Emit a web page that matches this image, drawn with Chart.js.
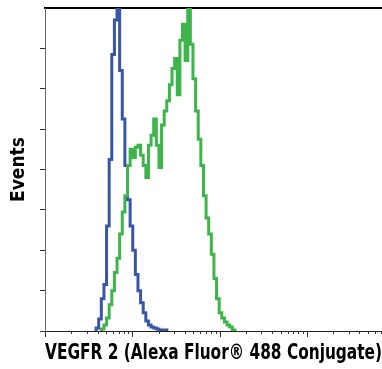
<!DOCTYPE html>
<html>
<head>
<meta charset="utf-8">
<script src="https://cdn.jsdelivr.net/npm/chart.js@4.4.1/dist/chart.umd.min.js"></script>
<style>
  html, body { margin: 0; padding: 0; background: #fff; }
  #wrap { width: 382px; height: 369px; }
</style>
</head>
<body>
<div id="wrap"><canvas id="histo" width="382" height="369"></canvas></div>
<script>
// fluorescence channel (bin centres, log spaced)
const binValues = [3.715, 3.981, 4.266, 4.571, 4.898, 5.248, 5.623, 6.026, 6.457, 6.918,
  7.413, 7.943, 8.511, 9.120, 9.772, 10.47, 11.22, 12.02, 12.88, 13.80,
  14.79, 15.85, 16.98, 18.20, 19.50, 20.89, 22.39, 23.99, 25.70, 27.54,
  29.51, 31.62, 33.88, 36.31, 38.90, 41.69, 44.67, 47.86, 51.29, 54.95,
  58.88, 63.10, 67.61, 72.44, 77.62, 83.18, 89.13, 95.50, 102.3, 109.6,
  117.5, 125.9, 134.9, 144.5, 154.9, 166.0, 177.8, 190.5];

// blue : control
const isotypeCounts = [0, 1.5, 6, 16, 23, 52, 85, 137, 154, 174,
  129, 105, 82, 65, 52, 40, 28, 20, 14, 9,
  5, 3, 2, 1.5, 1, 0.5, 0.5, 0.5, 0, 0,
  0, 0, 0, 0, 0, 0, 0, 0, 0, 0,
  0, 0, 0, 0, 0, 0, 0, 0, 0, 0,
  0, 0, 0, 0, 0, 0, 0, 0];

// green : VEGFR 2 Alexa Fluor 488
const vegfrCounts = [0, 0, 0, 1, 3, 6.4, 13, 20, 29, 36,
  48, 59, 67, 82, 90, 86, 91, 92, 87, 82,
  76, 92, 97, 105, 92, 81, 102, 109, 114, 122,
  130, 135, 117, 144, 152, 134, 170, 142, 125, 109,
  95, 82, 67, 56, 48, 38, 26, 16, 9, 6.4,
  4.5, 3, 2, 0.5, 0, 0, 0, 0];

const xTickValues = [1, 2, 3, 4, 5, 6, 7, 8, 9,
  10, 20, 30, 40, 50, 60, 70, 80, 90,
  100, 200, 300, 400, 500, 600, 700, 800, 900,
  1000, 2000, 3000, 4000, 5000, 6000, 7000];

const xMin = 1;
const xMax = 7244;
const yMax = 160;
const yStep = 20;

const titleFont = "'Liberation Sans Narrow', 'DejaVu Sans Condensed', 'Roboto Condensed', sans-serif";

// garde un seul zéro de chaque côté de la courbe
function toPoints(counts) {
    let first = counts.findIndex(v => v > 0);
    let last = counts.length - 1 - [...counts].reverse().findIndex(v => v > 0);
    first = Math.max(0, first - 1);
    last = Math.min(counts.length - 1, last + 1);
    const pts = [];
    for (let i = first; i <= last; i++) pts.push({ x: binValues[i], y: counts[i] });
    return pts;
}

// petits traits de l'axe log : longs pour les décades, courts sinon
const logTicks = {
    id: 'logTicks',
    afterDraw(chart) {
        const scale = chart.scales.x;
        const ctx = chart.ctx;
        ctx.save();
        ctx.strokeStyle = '#333';
        ctx.lineWidth = 1;
        scale.ticks.forEach(t => {
            const major = Math.abs(Math.log10(t.value) % 1) < 1e-9;
            const px = Math.round(scale.getPixelForValue(t.value)) + 0.5;
            ctx.beginPath();
            ctx.moveTo(px, scale.top);
            ctx.lineTo(px, scale.top + (major ? 6 : 3));
            ctx.stroke();
        });
        ctx.restore();
    }
};

new Chart(document.getElementById('histo'), {
    type: 'line',
    plugins: [logTicks],
    data: {
        datasets: [{
            label: 'VEGFR 2',
            data: toPoints(vegfrCounts),
            borderColor: '#3db54a',
            borderWidth: 3,
            pointRadius: 0,
            stepped: 'middle',
            fill: false
        }, {
            label: 'Control',
            data: toPoints(isotypeCounts),
            borderColor: '#3955a6',
            borderWidth: 3,
            pointRadius: 0,
            stepped: 'middle',
            fill: false
        }]
    },
    options: {
        responsive: false,
        animation: false,
        devicePixelRatio: 1,
        layout: { padding: 0 },
        plugins: { legend: { display: false }, tooltip: { enabled: false } },
        scales: {
            x: {
                type: 'logarithmic',
                position: 'bottom',
                min: xMin,
                max: xMax,
                afterBuildTicks: (scale) => { scale.ticks = xTickValues.map(v => ({ value: v })); },
                afterFit: (scale) => { scale.height = 38; },
                ticks: { display: false },
                grid: { display: false },
                border: { display: true, color: '#222', width: 1 },
                title: {
                    display: true,
                    text: 'VEGFR 2 (Alexa Fluor® 488 Conjugate)',
                    color: '#000',
                    font: { family: titleFont, size: 21, weight: 'bold' },
                    padding: { top: 0, bottom: 3 }
                }
            },
            xTop: {
                type: 'linear',
                position: 'top',
                min: 0,
                max: 1,
                afterFit: (scale) => { scale.height = 8; },
                ticks: { display: false },
                grid: { display: false },
                border: { display: true, color: '#000', width: 2 }
            },
            y: {
                type: 'linear',
                min: 0,
                max: yMax,
                afterFit: (scale) => { scale.width = 45; },
                ticks: { display: false, stepSize: yStep },
                grid: {
                    drawOnChartArea: false,
                    drawTicks: true,
                    tickLength: 5,
                    tickColor: (c) => (c.tick && c.tick.value === yMax) ? 'rgba(0,0,0,0)' : '#333'
                },
                border: { display: true, color: '#666', width: 1 },
                title: {
                    display: true,
                    text: 'Events',
                    color: '#000',
                    font: { family: titleFont, size: 19, weight: 'bold' },
                    padding: { top: 8, bottom: 0 }
                }
            }
        }
    }
});
</script>
</body>
</html>
